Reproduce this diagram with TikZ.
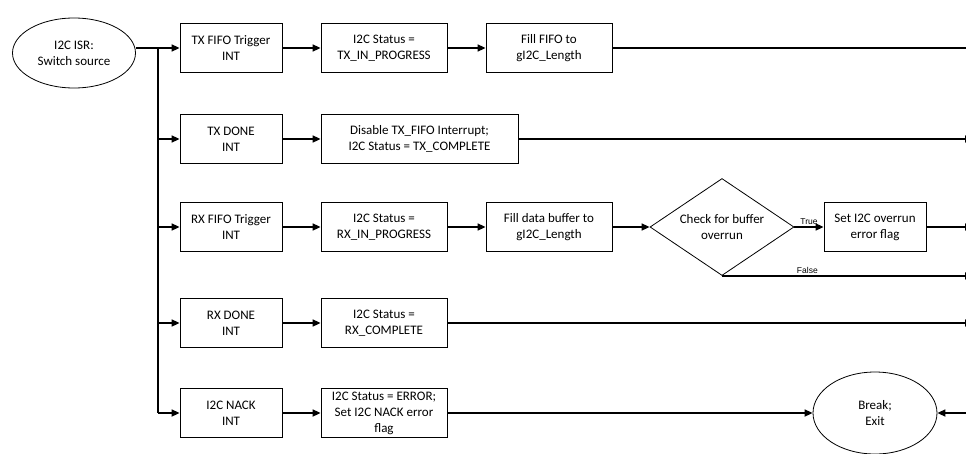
\documentclass[tikz,border=0pt]{standalone}
\usepackage{fontspec}
\setmainfont{Carlito}
\newfontfamily\labelfont{Liberation Sans}
\usetikzlibrary{shapes.geometric,arrows.meta}

\begin{document}
\begin{tikzpicture}[x=1pt, y=-1pt,
        stepbox/.style = {draw, line width = 0.8pt, minimum height = 49pt, inner xsep = 2pt, inner ysep = 1pt, align = center, font = \fontsize{13}{16}\selectfont},
        term/.style = {draw, ellipse, line width = 0.8pt, inner sep = 0pt, align = center, font = \fontsize{13}{16}\selectfont},
        check/.style = {draw, diamond, line width = 0.8pt, inner sep = 0pt, aspect = 1.48, minimum width = 144pt, minimum height = 97pt, align = center, font = \fontsize{13}{16}\selectfont},
        flow/.style = {line width = 1.6pt, -{Triangle[length = 8pt, width = 7pt]}},
        link/.style = {line width = 1.6pt},
        cond/.style = {font = \labelfont\fontsize{8.5}{10}\selectfont, inner sep = 2pt}
    ]
        \useasboundingbox (0,0) rectangle (966,453);
        \clip (0,0) rectangle (966,453);

        \node[term, minimum width = 123pt, minimum height = 70pt] (isr) at (74,53) {I2C ISR:\\Switch source};

        \node[stepbox, minimum width = 102pt] (t1) at (231,48) {TX FIFO Trigger\\INT};
        \node[stepbox, minimum width = 102pt] (t2) at (231,139) {TX DONE\\INT};
        \node[stepbox, minimum width = 102pt] (t3) at (231,227) {RX FIFO Trigger\\INT};
        \node[stepbox, minimum width = 102pt] (t4) at (231,323) {RX DONE\\INT};
        \node[stepbox, minimum width = 102pt] (t5) at (231,413) {I2C NACK\\INT};

        \node[stepbox, minimum width = 126pt] (s1) at (384,48) {I2C Status =\\TX\_IN\_PROGRESS};
        \node[stepbox, minimum width = 197pt] (s2) at (419.5,139) {Disable TX\_FIFO Interrupt;\\I2C Status = TX\_COMPLETE};
        \node[stepbox, minimum width = 126pt] (s3) at (384,227) {I2C Status =\\RX\_IN\_PROGRESS};
        \node[stepbox, minimum width = 126pt] (s4) at (384,323) {I2C Status =\\RX\_COMPLETE};
        \node[stepbox, minimum width = 126pt] (s5) at (384,413) {I2C Status = ERROR;\\Set I2C NACK error\\flag};

        \node[stepbox, minimum width = 126pt] (f1) at (549,48) {Fill FIFO to\\gI2C\_Length};
        \node[stepbox, minimum width = 126pt] (f3) at (549,227) {Fill data buffer to\\gI2C\_Length};

        \node[check] (c3) at (722,227) {Check for buffer\\overrun};
        \node[stepbox, minimum width = 102pt] (e3) at (875,227) {Set I2C overrun\\error flag};

        \node[term, minimum width = 124pt, minimum height = 82pt] (brk) at (875,413) {Break;\\Exit};

        \coordinate (split) at (158,48);
        \coordinate (bus) at (973,48);

        \draw[flow] (isr.east |- t1) -- (t1.west);
        \draw[link] (split) -- (split |- t5);
        \foreach \n in {t2,t3,t4,t5}
            \draw[flow] (split |- \n) -- (\n.west);

        \draw[flow] (t1) -- (s1);
        \draw[flow] (s1) -- (f1);
        \draw[flow] (t2) -- (s2);
        \draw[flow] (t3) -- (s3);
        \draw[flow] (s3) -- (f3);
        \draw[flow] (f3) -- (c3);
        \draw[flow] (c3.east) -- node[cond, above] {True} (e3.west);
        \draw[flow] (t4) -- (s4);
        \draw[flow] (t5) -- (s5);
        \draw[flow] (s5) -- (brk);

        \draw[flow] (f1.east) -- (bus) -- (bus |- brk) -- (brk.east);
        \draw[flow] (s2.east) -- (s2.east -| bus);
        \draw[flow] (e3.east) -- (e3.east -| bus);
        \draw[flow] (c3.south) -- node[cond, above, pos = 0.34] {False} (c3.south -| bus);
        \draw[flow] (s4.east) -- (s4.east -| bus);
    \end{tikzpicture}
\end{document}
